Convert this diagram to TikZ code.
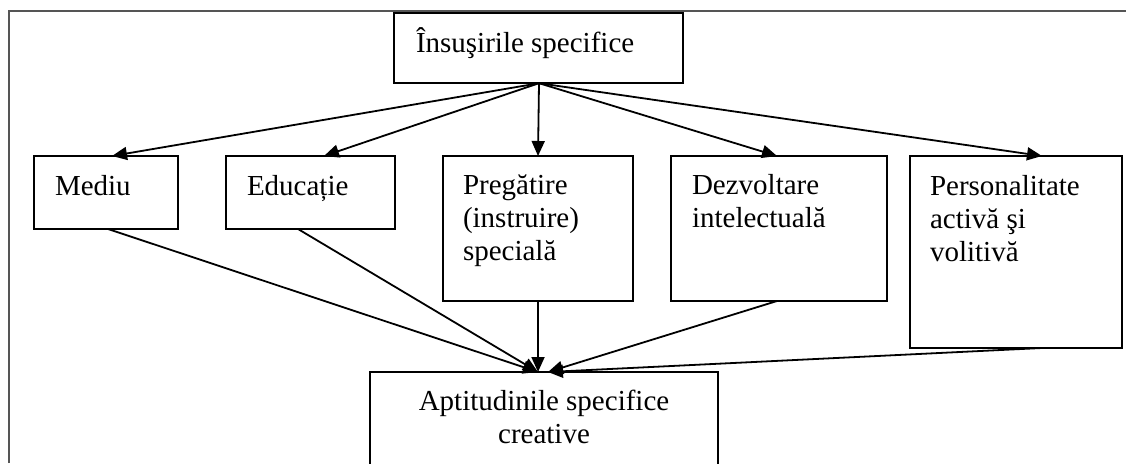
\documentclass[tikz,border=0pt]{standalone}
\usepackage{fontspec}
\setmainfont{Liberation Serif}
\usetikzlibrary{arrows.meta}
\definecolor{framegray}{RGB}{85,85,85}
\begin{document}
\begin{tikzpicture}[x=1pt,y=-1pt,
  box/.style={draw=black, line width=2pt, inner sep=0pt, outer sep=0pt, anchor=north west, fill=none},
  lbl/.style={inner sep=0pt, outer sep=0pt, font=\fontsize{29}{33}\selectfont, align=left},
  arr/.style={line width=1.8pt, -{Triangle[length=15pt,width=13pt]}},
  frameline/.style={draw=framegray, line width=2pt}]
\useasboundingbox (0,0) rectangle (1126,463);
\clip (0,0) rectangle (1126,463);
\draw[frameline] (8.5,463) -- (8.5,11) -- (1127,11);
% boxes
\node[box, minimum width=289pt, minimum height=70.5pt] (top) at (394,12.7) {};
\node[box, minimum width=144pt, minimum height=73pt] (mediu) at (34,156) {};
\node[box, minimum width=169pt, minimum height=73pt] (educ) at (226,156) {};
\node[box, minimum width=190pt, minimum height=145pt] (preg) at (443,156) {};
\node[box, minimum width=216pt, minimum height=145pt] (dezv) at (671,156) {};
\node[box, minimum width=212pt, minimum height=192pt] (pers) at (910,156) {};
\node[box, minimum width=348pt, minimum height=130pt] (apt) at (370,372) {};
% texts (base anchor = baseline of the last line)
\node[lbl, anchor=base west] (ttop) at (416,52) {Însuşirile specifice};
\node[lbl, anchor=base west] (tmediu) at (55,195) {Mediu};
\node[lbl, anchor=base west] (teduc) at (247,195) {Educație};
\node[lbl, anchor=base west] (tpreg) at (463,260) {Pregătire\\(instruire)\\specială};
\node[lbl, anchor=base west] (tdezv) at (692,227) {Dezvoltare\\intelectuală};
\node[lbl, anchor=base west] (tpers) at (930,261) {Personalitate\\activă şi\\volitivă};
\node[lbl, anchor=base, align=center] (tapt) at (544,443) {Aptitudinile specifice\\creative};
% arrows from top
\coordinate (src) at ([xshift=0.5pt]top.south);
\draw[arr] (src) -- ([xshift=6pt]mediu.north);
\draw[arr] (src) -- ([xshift=13.5pt]educ.north);
\draw[arr] (src) -- (preg.north);
\draw[arr] (src) -- ([xshift=-2pt]dezv.north);
\draw[arr] (src) -- ([xshift=26pt]pers.north);
% arrows to bottom
\draw[arr] ([xshift=2pt]mediu.south) -- ([xshift=-6pt]apt.north);
\draw[arr] ([xshift=-12.5pt]educ.south) -- ([xshift=-6pt]apt.north);
\draw[arr] (preg.south) -- ([xshift=-6pt]apt.north);
\draw[arr] ([xshift=-2pt]dezv.south) -- ([xshift=4pt]apt.north);
\draw[arr] ([xshift=26pt]pers.south) -- ([xshift=4pt]apt.north);
\end{tikzpicture}
\end{document}
